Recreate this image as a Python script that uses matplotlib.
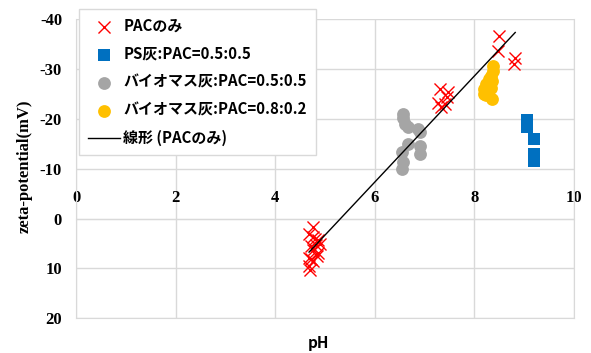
import numpy as np
import matplotlib
matplotlib.use("Agg")
import matplotlib.pyplot as plt

# PACのみ
pac_ph = [4.76, 4.68, 4.76, 4.86, 4.82, 4.76, 4.86, 4.68, 4.76, 4.68, 4.70,
          4.80, 4.72, 4.84, 4.72, 4.90,
          7.31, 7.47, 7.45, 7.27, 7.40, 7.33,
          8.49, 8.47, 8.82, 8.80]
pac_zeta = [1.7, 3.0, 3.6, 4.2, 5.2, 6.2, 6.8, 7.8, 8.6, 9.6, 10.4,
            4.0, 5.5, 7.5, 8.2, 5.0,
            -26.1, -25.5, -24.5, -23.3, -23.0, -22.5,
            -36.7, -33.7, -32.3, -31.0]

# PS灰:PAC=0.5:0.5
ps_ph = [9.06, 9.06, 9.19, 9.19, 9.19]
ps_zeta = [-19.7, -18.3, -16.0, -13.0, -11.6]

# バイオマス灰:PAC=0.5:0.5
bio55_ph = [6.57, 6.57, 6.60, 6.66, 6.87, 6.90, 6.67, 6.90, 6.90, 6.55, 6.57, 6.55]
bio55_zeta = [-20.9, -20.2, -19.0, -18.3, -17.9, -17.3, -14.9, -14.5, -12.9, -13.3, -11.3, -9.9]

# バイオマス灰:PAC=0.8:0.2
bio82_ph = [8.37, 8.37, 8.33, 8.36, 8.23, 8.19, 8.26, 8.33, 8.23, 8.36, 8.30, 8.20]
bio82_zeta = [-30.6, -29.6, -28.6, -27.6, -27.0, -26.0, -25.6, -26.2, -24.8, -24.0, -28.0, -25.0]

plt.rcParams["font.family"] = ["Noto Sans CJK JP", "DejaVu Sans"]
plt.rcParams["axes.unicode_minus"] = False

fig = plt.figure(figsize=(5.91, 3.53), dpi=100)
ax = fig.add_axes([0.1286, 0.0983, 0.8426, 0.847])

grid_c = "#d9d9d9"

ax.scatter(pac_ph, pac_zeta, marker="x", s=75, color="#ff0000", linewidths=1.0,
           label="PACのみ", zorder=3)
ax.scatter(ps_ph, ps_zeta, marker="s", s=70, color="#0070c0", linewidths=0,
           label="PS灰:PAC=0.5:0.5", zorder=3)
ax.scatter(bio55_ph, bio55_zeta, marker="o", s=85, color="#a5a5a5", linewidths=0,
           label="バイオマス灰:PAC=0.5:0.5", zorder=3)
ax.scatter(bio82_ph, bio82_zeta, marker="o", s=85, color="#ffc000", linewidths=0,
           label="バイオマス灰:PAC=0.8:0.2", zorder=3)

# linear trendline for PAC only
k, b = np.polyfit(pac_ph, pac_zeta, 1)
xs = np.array([min(pac_ph), max(pac_ph)])
ax.plot(xs, k * xs + b, color="black", lw=1.0, label="線形 (PACのみ)", zorder=4)

ax.set_xlim(0, 10)
ax.set_ylim(20, -40)
ax.set_xticks(range(0, 11, 2))
ax.set_yticks(range(-40, 21, 10))
ax.grid(True, color=grid_c, lw=1.0)
ax.set_axisbelow(True)

for s in ax.spines.values():
    s.set_color(grid_c)
ax.spines["top"].set_position(("data", 0))
ax.xaxis.tick_top()
ax.tick_params(axis="both", length=0)
ax.tick_params(axis="x", pad=9)
ax.tick_params(axis="y", pad=10)
for lab in ax.get_xticklabels() + ax.get_yticklabels():
    lab.set_fontfamily("Liberation Serif")
    lab.set_fontweight("bold")
    lab.set_fontsize(12)

fig.text(0.042, 0.53, "zeta-potential(mV)", rotation=90, ha="center", va="center",
         family="Liberation Serif", weight="bold", fontsize=12)
fig.text(0.538, 0.028, "pH", ha="center", va="center", weight="bold", fontsize=11)

leg = ax.legend(loc="upper left", bbox_to_anchor=(79 / 591, 1 - 9 / 353),
                bbox_transform=fig.transFigure, frameon=True, fancybox=False,
                edgecolor=grid_c, framealpha=1, borderaxespad=0,
                prop={"weight": "bold", "size": 10.8}, labelspacing=0.8,
                handlelength=2.15, handletextpad=0.2, borderpad=0.6)
leg.get_frame().set_linewidth(1.0)

fig.savefig("out.png", dpi=100)
